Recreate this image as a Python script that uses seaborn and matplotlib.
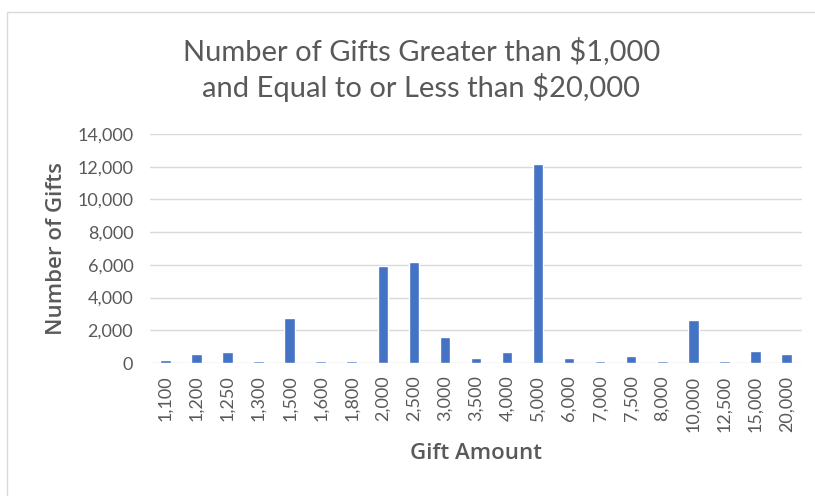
import numpy as np
import pandas as pd
import matplotlib
matplotlib.use("Agg")
import matplotlib.pyplot as plt
import seaborn as sns
from matplotlib.patches import Rectangle
from matplotlib.ticker import FuncFormatter

# Data
gift_amounts = ["1,100", "1,200", "1,250", "1,300", "1,500", "1,600", "1,800",
                "2,000", "2,500", "3,000", "3,500", "4,000", "5,000", "6,000",
                "7,000", "7,500", "8,000", "10,000", "12,500", "15,000", "20,000"]
gift_counts = [210, 570, 670, 120, 2750, 120, 120,
               5920, 6150, 1620, 340, 670, 12150, 340,
               120, 440, 120, 2650, 120, 760, 570]

TEXT = "#595959"
BAR = "#4472C4"
GRID = "#D9D9D9"

sns.set_theme(style="white")
plt.rcParams["font.family"] = ["Lato", "DejaVu Sans"]

df = pd.DataFrame({"amount": gift_amounts, "count": gift_counts})

fig = plt.figure(figsize=(8.15, 4.96), dpi=100)
ax = fig.add_axes([0.184, 0.268, 0.80, 0.462])

sns.barplot(data=df, x="amount", y="count", color=BAR, width=0.34,
            saturation=1, ax=ax)

ax.set_ylim(0, 14000)
ax.set_yticks(np.arange(0, 14001, 2000))
ax.yaxis.set_major_formatter(FuncFormatter(lambda v, p: f"{int(v):,}"))
ax.set_xlim(-0.5, len(gift_amounts) - 0.5)
ax.grid(axis="y", color=GRID, linewidth=1)
ax.set_axisbelow(True)
for s in ax.spines.values():
    s.set_visible(False)
ax.tick_params(axis="both", length=0, colors=TEXT, labelsize=13)
ax.tick_params(axis="y", pad=12)
ax.tick_params(axis="x", pad=9)
plt.setp(ax.get_xticklabels(), rotation=90)

label_font = dict(family=["Open Sans", "DejaVu Sans"], fontweight="semibold", color=TEXT)
ax.set_xlabel("Gift Amount", fontsize=16, labelpad=8, **label_font)
ax.set_ylabel("Number of Gifts", fontsize=16, labelpad=7, **label_font)

fig.text(0.517, 0.86, "Number of Gifts Greater than $1,000\nand Equal to or Less than $20,000",
         ha="center", va="center", fontsize=21, color=TEXT, linespacing=1.3)

# chart frame
fig.patches.append(Rectangle((0.009, -0.05), 1.1, 1.025, transform=fig.transFigure,
                             fill=False, edgecolor="#D9D9D9", linewidth=1))

fig.savefig("out.png", dpi=100)
